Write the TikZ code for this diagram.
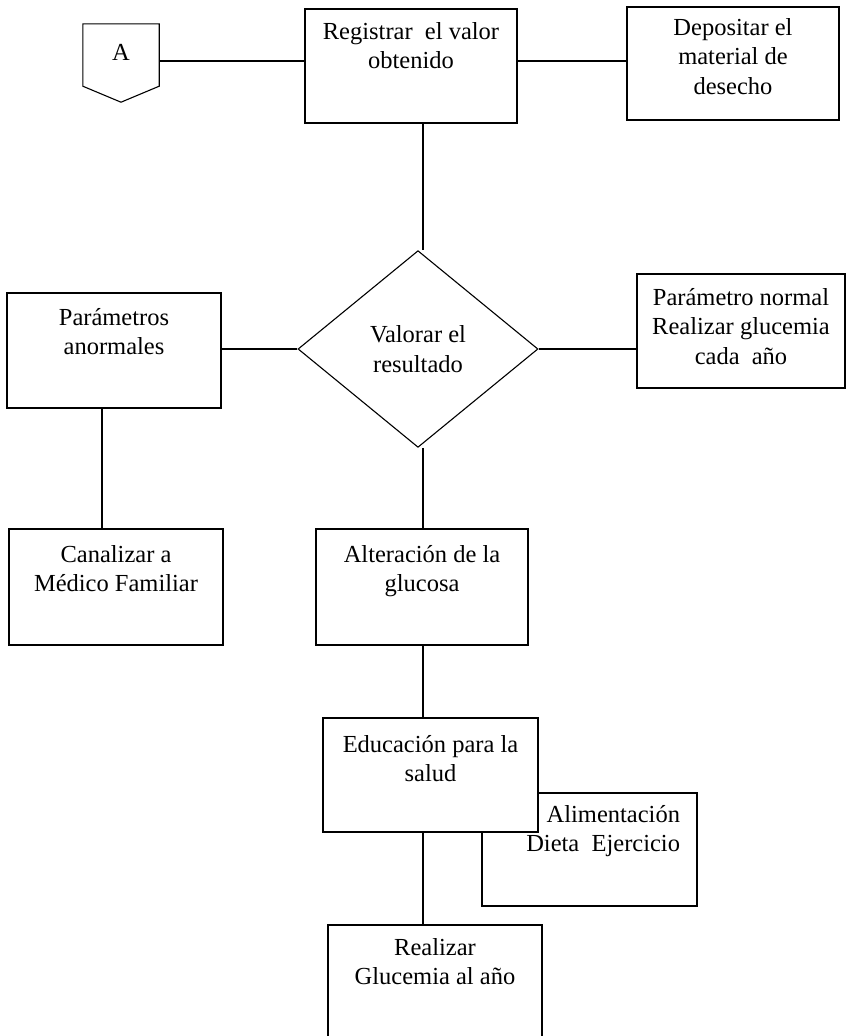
\documentclass[tikz,border=0pt]{standalone}
\usepackage{fontspec}
\setmainfont{Liberation Serif}
\usetikzlibrary{shapes.geometric,calc}

% text block of a box: width, height, depth of first baseline, lines
\newcommand{\boxtext}[4]{\parbox[c][#2][t]{#1}{\centering\rule{0pt}{#3}#4\par}}

\tikzset{
  flowbox/.style={draw, line width=1.1pt, inner sep=0pt, fill=white},
  decision/.style={draw, line width=1.1pt, diamond, inner sep=0pt,
                   minimum width=240pt, minimum height=188pt, fill=white},
  link/.style={line width=1.1pt},
}

\begin{document}
\begin{tikzpicture}[x=1pt,y=-1pt,font=\fontsize{24.5}{29.5}\selectfont]
\useasboundingbox (0,0) rectangle (848,1036);
\clip (0,0) rectangle (848,1036);

% guide coordinates for the connector rails
\coordinate (lineA) at (0,61);
\coordinate (spine) at (423,0);
\coordinate (leftspine) at (102,0);

% off-page connector A
\node[inner sep=0pt, minimum width=76pt, minimum height=62pt] (conA) at (121,55)
  {\raisebox{6pt}{A}};
\draw[link, line join=miter] (conA.north west) -- (conA.north east) -- (conA.south east)
  -- ($(conA.south)+(0,16)$) -- (conA.south west) -- cycle;

% top row
\node[flowbox] (reg) at (411,66)
  {\boxtext{212pt}{114pt}{30pt}{Registrar\ \ el valor\\obtenido}};
\node[flowbox] (dep) at (733,63.5)
  {\boxtext{212pt}{113pt}{28pt}{Depositar el\\material de\\desecho}};

% decision and its branches
\node[decision] (dia) at (418,349)
  {\raisebox{10pt}{\parbox{150pt}{\centering Valorar el\\resultado}}};
\node[flowbox] (anorm) at (114,350.5)
  {\boxtext{214pt}{115pt}{32pt}{Parámetros\\anormales}};
\node[flowbox] (norm) at (741,331)
  {\boxtext{208pt}{114pt}{31pt}{Parámetro normal\\Realizar glucemia\\cada\ \ año}};

% lower steps
\node[flowbox] (can) at (116,587)
  {\boxtext{214pt}{116pt}{33pt}{Canalizar a\\Médico Familiar}};
\node[flowbox] (alt) at (422,587)
  {\boxtext{212pt}{116pt}{33pt}{Alteración de la\\glucosa}};

\node[flowbox] (ali) at (589.5,849.5)
  {\parbox[c][113pt][t]{198pt}{\raggedleft\rule{0pt}{29pt}Alimentación\\Dieta\ \ Ejercicio\par}\kern17pt};
\node[flowbox] (edu) at (430.5,775)
  {\boxtext{215pt}{114pt}{34pt}{Educación para la\\salud}};

\node[flowbox] (rea) at (435,987.5)
  {\boxtext{214pt}{125pt}{30pt}{Realizar\\Glucemia al año}};

% connectors
\draw[link] (conA.east |- lineA) -- (reg.west |- lineA);
\draw[link] (reg.east |- lineA) -- (dep.west |- lineA);
\draw[link] (reg.south -| spine) -- (dia.north -| spine);
\draw[link] (dia.west) -- (anorm.east |- dia.west);
\draw[link] (dia.east) -- (norm.west |- dia.east);
\draw[link] (anorm.south -| leftspine) -- (can.north -| leftspine);
\draw[link] (dia.south -| spine) -- (alt.north -| spine);
\draw[link] (alt.south -| spine) -- (edu.north -| spine);
\draw[link] (edu.south -| spine) -- (rea.north -| spine);
\end{tikzpicture}
\end{document}
